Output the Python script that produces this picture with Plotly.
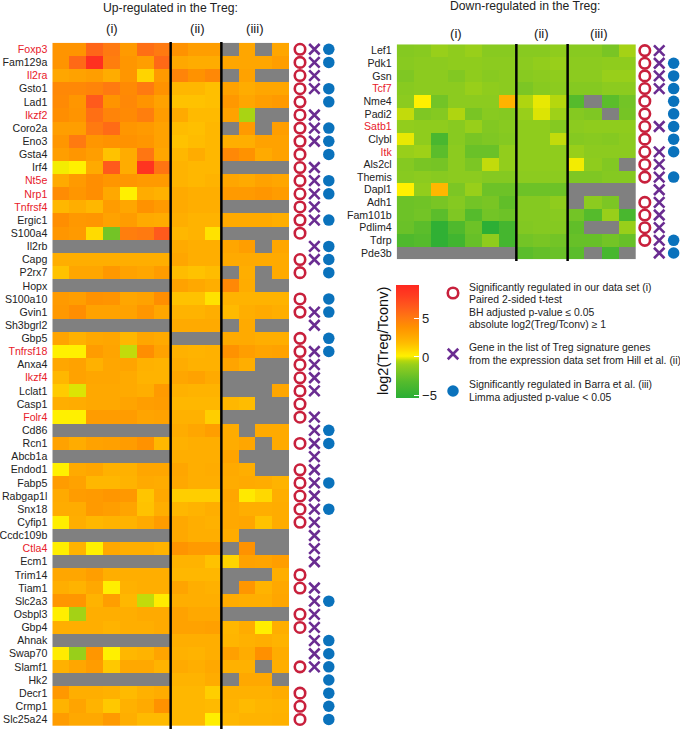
import plotly.graph_objects as go
import numpy as np

N = None
# ---------- data ----------
up_genes = ["Foxp3","Fam129a","Il2ra","Gsto1","Lad1","Ikzf2","Coro2a","Eno3","Gsta4","Irf4","Nt5e","Nrp1","Tnfrsf4","Ergic1","S100a4","Il2rb","Capg","P2rx7","Hopx","S100a10","Gvin1","Sh3bgrl2","Gbp5","Tnfrsf18","Anxa4","Ikzf4","Lclat1","Casp1","Folr4","Cd86","Rcn1","Abcb1a","Endod1","Fabp5","Rabgap1l","Snx18","Cyfip1","Ccdc109b","Ctla4","Ecm1","Trim14","Tiam1","Slc2a3","Osbpl3","Gbp4","Ahnak","Swap70","Slamf1","Hk2","Decr1","Crmp1","Slc25a24"]
down_genes = ["Lef1","Pdk1","Gsn","Tcf7","Nme4","Padi2","Satb1","Clybl","Itk","Als2cl","Themis","Dapl1","Adh1","Fam101b","Pdlim4","Tdrp","Pde3b"]
highlighted = ["Foxp3","Il2ra","Ikzf2","Nt5e","Nrp1","Tnfrsf4","Tnfrsf18","Ikzf4","Folr4","Ctla4","Tcf7","Satb1","Itk"]
columns = ["i1","i2","i3","i4","i5","i6","i7","ii1","ii2","ii3","iii1","iii2","iii3","iii4"]
evidence = ["(i)","(ii)","(iii)"]

up_values = [
[3.7,3.7,6,5,3.4,5.5,5,3.8,3.2,3.2,N,2.8,N,2.8],
[3.7,5.8,8.8,4.8,3.6,3.2,5.8,2.7,2.5,2.5,2.8,2.8,2.8,3.2],
[2.8,3,3.2,2.5,3.6,1,3.4,4.5,3.8,4.3,N,3.0,N,N],
[4.3,4.3,4.5,5,4.2,5,3.8,2,2,1.7,3,2.5,2.8,2.8],
[4.2,3.6,6.5,3.7,4.3,3.7,3,1.6,1.6,1.7,3.5,2.8,3.2,3.4],
[4,3.7,5.5,4.5,4.2,4.8,3.3,2.6,1.9,1.9,3,-0.7,N,N],
[3.2,3.2,5,5.7,3.6,3.4,3,1.8,1.7,2,N,3.4,N,3.2],
[3.6,5,3.6,3.8,3.8,3.6,3,1.6,1.8,2,2.4,2.4,3,3.0],
[3.2,3.6,3.2,1.6,2.5,5.2,2.8,2,2.5,2,4.3,3.8,2.6,3.0],
[0,0.1,2.6,6.5,2.5,8.5,5.3,2.2,2,2,N,N,N,N],
[2.6,3.4,4,3.6,3.6,3.4,3.4,2.2,2,2.2,2.8,2.6,3,2.8],
[4.1,3.6,4,2.7,0.1,2.5,2.3,2.6,2.4,2.4,3.4,3.4,3.6,3.3],
[2,2.4,2,3.3,2.8,3.8,3.4,2.6,2.4,2.4,N,N,N,N],
[4,3.5,3.6,3,3.3,2.6,2.5,2.4,2.2,2.2,2.6,2.6,2.6,2.4],
[3.6,3.4,0.8,-2.2,4.8,5,6.5,2,2.2,0.6,N,N,N,N],
[N,N,N,N,N,N,N,2.6,2.4,2.4,2.8,3.2,N,2.8],
[2.4,2.4,2.4,2.4,2.4,2.4,2.4,2.8,2.4,2.4,2.6,2.6,2.6,2.6],
[1.6,2.8,2.8,3.5,3,2.8,3.3,1.8,1.6,1.8,N,2.4,N,2.6],
[N,N,N,N,N,N,N,3,2.7,2.4,4.3,2.5,N,N],
[3.4,3.2,3.8,3.7,2.8,3,4,1.6,1.6,0.6,2.2,2.2,2.2,2.2],
[3.5,4,3,3,3,3.6,2.8,2.2,2.2,2.4,1.9,2.4,2.6,2.4],
[N,N,N,N,N,N,N,2.6,2.6,2.6,N,2.6,N,N],
[2.9,2.3,2.7,2.8,2,2.8,2.6,N,N,N,2.6,2.6,2.4,2.4],
[0.1,0.1,3.3,2.9,-0.4,4,3,2.3,2.2,2.3,3.8,3.2,2.9,3.0],
[2.8,3,2.3,2.8,2.9,2.3,2.2,2.5,2.3,2.3,2.9,2.4,N,N],
[2,3,2.8,2.8,2.6,2.2,2.2,2.8,3,2.6,N,N,N,N],
[1.3,-0.2,2.7,2.7,2.6,2.4,3.4,2.3,2.2,2.2,N,N,N,2.8],
[2.4,2.5,2.7,2.7,2.9,3.2,3.3,2,2,2,2,1.8,N,N],
[0.1,0.1,3.3,3.3,3.3,2.9,3,2.3,2.3,1.2,N,N,N,N],
[N,N,N,N,N,N,N,2.5,2.8,3.2,2.5,N,2.6,2.6],
[3,2.5,3,3.1,3.3,3.8,2,2.3,2.4,2.4,2.5,2.8,N,2.6],
[N,N,N,N,N,N,N,2.4,2.4,2.4,2.9,N,N,N],
[0.1,2.6,2.8,2.3,2.3,2.8,2.8,2.8,2.4,2.5,2.6,2.4,N,N],
[3.3,3,2,2,2.2,2.6,2.5,2.7,2.4,2.4,2.5,2.6,2.5,2.2],
[2.6,3.3,3.4,3.6,3.5,1.5,2.7,1.2,1.2,1.2,2.8,0.4,0.9,2.4],
[2.5,2.5,3.4,3.2,2.9,1.6,2.4,2,2.2,2.4,2.7,2.4,2.4,2.5],
[0.2,2.4,2.0,2.2,2.2,2.6,3.3,2.7,2.4,2.3,2.7,2.8,1.6,2.5],
[N,N,N,N,N,N,N,2.7,2.4,2.4,2.5,N,N,N],
[0.2,2.2,0.1,2.7,2.4,2.4,2.2,3.7,3.4,3.4,N,3.8,N,N],
[N,N,N,N,N,N,N,2.2,2.2,1.6,1,3,2.9,3.2],
[2.8,2.8,3.2,2.4,2.4,2.4,2.4,2,2,2,N,N,N,2.4],
[2.4,2.2,2.7,0.2,2.3,2.4,2.4,2.9,2.4,2.3,N,3.6,2.2,2.7],
[3.6,3.6,2.2,3.2,2.0,-0.4,0.3,2.4,2.4,2.4,2.5,2.4,2.4,2.8],
[0.2,-0.8,2.4,2.4,2.4,2.6,2.6,3,2.7,2.7,N,N,N,N],
[2.4,2.4,2.4,2.2,2.4,2.4,2.6,3,3,3.1,2,2.5,0.2,2.4],
[N,N,N,N,N,N,N,2.4,2.4,2.4,2.1,2.3,2.4,2.2],
[0.3,-1.0,3.6,0.1,2,2.2,2.9,2.3,2.2,2.4,3.1,2.5,3.9,2.5],
[2.3,2.8,3.3,1.4,2.7,2.7,2.2,2.6,2.4,2.7,2.3,2.3,N,2.4],
[N,N,N,N,N,N,N,2.2,2.2,2.5,N,2.7,2.7,N],
[3.5,2.4,2.4,2.3,1.9,2.3,2.5,2,2,1.2,2.3,2.3,2.3,2.5],
[2.2,2.9,2.2,1.4,2.3,2.6,3.8,2,2.0,1.9,2.2,1.9,2.1,2.2],
[3.3,2.7,2.7,3.4,2.4,1.9,1.9,2,2,0.2,2,2.2,2.2,2.3],
]

down_values = [
[-1.6,-1.5,-1.0,-1.3,-1.0,-1.5,-1.5,-1.5,-1.5,-1.3,-1.5,-1.5,-2,-0.8],
[-1.5,-1.4,-1.4,-1.3,-1.3,-1.4,-1.4,-1.4,-1.2,-1.0,-1.4,-1.4,-1.3,-1.3],
[-1.8,-1.4,-1.4,-1.7,-1.3,-1.5,-1.4,-1.5,-1.4,-1.3,-1.4,-1.4,-1.0,-1.0],
[-1.5,-1.4,-1.4,-1.4,-1.0,-1.3,-1.4,-1.9,-1.5,-1.4,-1.6,-1.6,-1.4,-1.4],
[-1.4,0.1,-2.2,-1.4,-1.4,-1.4,2.2,-0.6,-0.1,-0.5,-3.2,N,-3,-2.2],
[-0.4,-1.8,-1.6,-0.6,-2,-1.5,-1.6,-1,-0.2,-0.9,-1.6,-1.8,N,-2.1],
[-1.2,-1.3,-1.3,-1.5,-1.0,-1.7,-1.5,-1.3,-1.3,-1.6,-1.4,-1.3,-1.3,-1.3],
[-0.1,-1.3,-3.8,-1.5,-2,-1.8,-1.6,-1.3,-1.3,-0.4,-1.6,-1.5,-1.6,-1.4],
[-1,-0.9,-3,-1.4,-2.5,-2.5,-1.2,-1.3,-1.3,-1.3,-1.0,-1.4,-1.4,-1.4],
[-1.6,-2,-2.1,-1.4,-1.9,-0.4,-1.2,-1.3,-1.3,-1.3,0,-1.3,-1.7,N],
[-1.5,-1.4,-1.5,-1.4,-1.4,-1.6,-1.6,-1.4,-1.4,-1.4,-1.8,-1.8,-1.6,-1.6],
[0.1,-1.2,2.0,-1.9,-1.0,-2.4,-2.4,-2.4,-2.4,-2.4,N,N,N,N],
[-2.4,-2.3,-2,-1.6,-2.2,-2,-2.8,-1.6,-1.6,-1.3,N,-1.4,-1.9,N],
[-2.4,-2.2,-3,-1.8,-3.2,-2.2,-2.4,-1.6,-1.6,-1.5,-2.2,-3.2,-1,-3.8],
[-2.5,-3,-5,-3.5,-2.4,-5.2,-4,-1.7,-1.6,-1.6,-2.8,N,N,-1.0],
[-3.5,-3.2,-5,-4.2,-2.6,-1.3,-4,-2.2,-2,-2.2,-2.6,-2.6,-2.2,-2.6],
[N,N,N,N,N,N,N,-3,-2.7,-2.5,-3,N,-3.9,N],
]

up_sig_i = ["Foxp3","Fam129a","Il2ra","Gsto1","Lad1","Ikzf2","Coro2a","Eno3","Gsta4","Irf4","Nt5e","Nrp1","Tnfrsf4","Ergic1","S100a4","Capg","P2rx7","S100a10","Gvin1","Gbp5","Tnfrsf18","Anxa4","Ikzf4","Lclat1","Casp1","Folr4","Rcn1","Endod1","Fabp5","Rabgap1l","Snx18","Cyfip1","Trim14","Tiam1","Osbpl3","Gbp4","Slamf1","Decr1","Crmp1","Slc25a24"]
up_sig_ii = ["Foxp3","Fam129a","Il2ra","Gsto1","Ikzf2","Coro2a","Eno3","Irf4","Nt5e","Nrp1","Tnfrsf4","Ergic1","Il2rb","Capg","Gvin1","Sh3bgrl2","Tnfrsf18","Anxa4","Ikzf4","Lclat1","Folr4","Cd86","Rcn1","Abcb1a","Endod1","Fabp5","Rabgap1l","Snx18","Cyfip1","Ccdc109b","Ctla4","Ecm1","Tiam1","Slc2a3","Osbpl3","Gbp4","Ahnak","Swap70","Slamf1"]
up_sig_iii = ["Foxp3","Fam129a","Gsto1","Lad1","Coro2a","Eno3","Gsta4","Nt5e","Nrp1","Ergic1","Il2rb","Capg","P2rx7","S100a10","Gvin1","Gbp5","Tnfrsf18","Cd86","Rcn1","Fabp5","Snx18","Slc2a3","Ahnak","Swap70","Slamf1","Hk2","Decr1","Crmp1","Slc25a24"]
down_sig_i = ["Lef1","Pdk1","Gsn","Tcf7","Nme4","Padi2","Satb1","Clybl","Itk","Als2cl","Themis","Adh1","Fam101b","Pdlim4","Tdrp"]
down_sig_ii = ["Lef1","Pdk1","Gsn","Tcf7","Satb1","Itk","Als2cl","Themis","Dapl1","Adh1","Fam101b","Pdlim4","Tdrp","Pde3b"]
down_sig_iii = ["Pdk1","Gsn","Tcf7","Nme4","Padi2","Satb1","Clybl","Itk","Themis","Tdrp","Pde3b"]

scale_stops = [-5.3,-3.2,-1.8,-1.0,-0.5,-0.2,0.1,0.5,1.0,1.8,2.5,3.2,3.9,5.0,6.5,8.0,9.3]
scale_colors = ["#2AAE35","#55BB2C","#7FC723","#98CF1A","#B5D70E","#DCE404","#FFF000","#FFE600","#FFD400","#FFBC00","#FFAC00","#FF9E00","#FF9000","#FF7A10","#FF5A1C","#FF3C20","#FF2820"]
colorbar_ticks = [-5, 0, 5]
colorbar_ticktext = ["−5", "0", "5"]

legend_lines_i = ["Significantly regulated in our data set (i)", "Paired 2-sided t-test", "BH adjusted p-value ≤ 0.05", "absolute log2(Treg/Tconv) ≥ 1"]
legend_lines_ii = ["Gene in the list of Treg signature genes", "from the expression data set from Hill et al. (ii)"]
legend_lines_iii = ["Significantly regulated in Barra et al. (iii)", "Limma adjusted p-value &lt; 0.05"]

# ---------- layout helpers (pixels -> paper) ----------
W, H = 680, 729
FONT = "Liberation Sans"
px = lambda x: x / W
py = lambda y: 1 - y / H
RED, PURPLE, BLUE, GREY = "#C8203C", "#6A2C91", "#0A72BC", "#808080"

zmin, zmax = scale_stops[0], scale_stops[-1]
cs = [[(v - zmin) / (zmax - zmin), c] for v, c in zip(scale_stops, scale_colors)]

def arr(rows):
    return np.array([[np.nan if v is None else v for v in r] for r in rows], dtype=float)

fig = go.Figure()

def panel(genes, rows, sig_i, sig_ii, sig_iii, hx, hy, mx, mr, ids):
    xa, ya, xb, yb = ids
    z = arr(rows)
    missing = np.where(np.isnan(z), 1.0, np.nan)
    fig.add_trace(go.Heatmap(x=columns, y=genes, z=missing, xaxis=xa, yaxis=ya,
                             colorscale=[[0, GREY], [1, GREY]], showscale=False, hoverinfo="skip"))
    fig.add_trace(go.Heatmap(x=columns, y=genes, z=z, xaxis=xa, yaxis=ya, coloraxis="coloraxis"))
    for lab, members, sym, size, col, lw in [
        ("(i)", sig_i, "circle-open", 10.5, RED, 2.6),
        ("(ii)", sig_ii, "x-thin-open", 10.5, PURPLE, 2.6),
        ("(iii)", sig_iii, "circle", 11.5, BLUE, 0),
    ]:
        fig.add_trace(go.Scatter(x=[lab] * len(members), y=members, mode="markers", xaxis=xb, yaxis=yb,
                                 showlegend=False, cliponaxis=False,
                                 marker=dict(symbol=sym, size=size, color=col, line=dict(color=col, width=lw))))
    ticktext = [f'<span style="color:#E8202A">{g}</span>' if g in highlighted else g for g in genes]
    n = len(genes)
    yrange = [n - 0.5, -0.5]
    xaname = "xaxis" + xa[1:]
    yaname = "yaxis" + ya[1:]
    xbname = "xaxis" + xb[1:]
    ybname = "yaxis" + yb[1:]
    fig.update_layout({
        xaname: dict(domain=[px(hx[0]), px(hx[1])], anchor=ya, type="category", categoryorder="array",
                     categoryarray=columns, range=[-0.5, 13.5], visible=False),
        yaname: dict(domain=[py(hy[1]), py(hy[0])], anchor=xa, type="category", categoryorder="array",
                     categoryarray=genes, range=yrange, tickmode="array", tickvals=genes, ticktext=ticktext,
                     ticklen=0, showgrid=False, zeroline=False, showline=False, ticklabelstandoff=4,
                     tickfont=dict(family=FONT, size=10.6, color="#222222")),
        xbname: dict(domain=[px(mx[0]), px(mx[1])], anchor=yb, type="category", categoryorder="array",
                     categoryarray=evidence, range=mr, visible=False),
        ybname: dict(domain=[py(hy[1]), py(hy[0])], anchor=xb, type="category", categoryorder="array",
                     categoryarray=genes, range=yrange, visible=False),
    })
    return xa

L_X, L_Y = (52.3, 289.0), (42.7, 726.0)
R_X, R_Y = (396.7, 636.0), (44.3, 259.3)

panel(up_genes, up_values, up_sig_i, up_sig_ii, up_sig_iii, L_X, L_Y, (292.8, 336.0), [-0.5, 2.5], ("x", "y", "x2", "y2"))
panel(down_genes, down_values, down_sig_i, down_sig_ii, down_sig_iii, R_X, R_Y, (637.6, 680.0), [-0.5, 2.44], ("x3", "y3", "x4", "y4"))

# legend markers on a pixel-scaled overlay axis
legend_y_px = [293, 354, 391]
fig.add_trace(go.Scatter(x=[453], y=[legend_y_px[0]], mode="markers", xaxis="x5", yaxis="y5", showlegend=False,
                         marker=dict(symbol="circle-open", size=10.5, color=RED, line=dict(color=RED, width=2.6))))
fig.add_trace(go.Scatter(x=[453], y=[legend_y_px[1]], mode="markers", xaxis="x5", yaxis="y5", showlegend=False,
                         marker=dict(symbol="x-thin-open", size=10.5, color=PURPLE, line=dict(color=PURPLE, width=2.6))))
fig.add_trace(go.Scatter(x=[453], y=[legend_y_px[2]], mode="markers", xaxis="x5", yaxis="y5", showlegend=False,
                         marker=dict(symbol="circle", size=11.5, color=BLUE)))

shapes = []
for xr, y0, y1 in [("x", 42, 729), ("x3", 44, 261)]:
    for pos in (6.5, 9.5):
        shapes.append(dict(type="line", xref=xr, yref="paper", x0=pos, x1=pos, y0=py(y0), y1=py(y1),
                           line=dict(color="black", width=2.5), layer="above"))

# white colourbar ticks on the left edge too (the bar itself only draws them on one side)
CB_TOP, CB_LEN, CB_LEFT = 285, 113.3, 396
for v in colorbar_ticks:
    tick_y = CB_TOP + CB_LEN * (zmax - v) / (zmax - zmin)
    shapes.append(dict(type="line", xref="paper", yref="paper", x0=px(CB_LEFT), x1=px(CB_LEFT + 5),
                       y0=py(tick_y), y1=py(tick_y), line=dict(color="white", width=1), layer="above"))

def txt(text, x, y, size, color="#222222", xanchor="center", align="center", angle=0):
    return dict(text=text, x=px(x), y=py(y), xref="paper", yref="paper", showarrow=False,
                xanchor=xanchor, yanchor="middle", align=align, textangle=angle,
                font=dict(family=FONT, size=size, color=color))

annotations = [
    txt("Up-regulated in the Treg:", 170.5, 7.5, 12.2),
    txt("Down-regulated in the Treg:", 525, 6, 12.2),
    txt("(i)", 111.7, 28, 13.2), txt("(ii)", 197, 28, 13.2), txt("(iii)", 255, 28, 13.2),
    txt("(i)", 455.7, 33, 13.2), txt("(ii)", 541.7, 33, 13.2), txt("(iii)", 599, 33, 13.2),
    txt("log2(Treg/Tconv)", 383, 341, 14.5, color="#111111", angle=-90),
]
for lines, x0, ys in [(legend_lines_i, 466.5, [287, 299.5, 312, 325]),
                      (legend_lines_ii, 467.3, [347, 360]),
                      (legend_lines_iii, 466.5, [384, 397])]:
    for line, y in zip(lines, ys):
        annotations.append(txt(line, x0, y, 10.4, xanchor="left", align="left"))

fig.update_layout(
    width=W, height=H, margin=dict(l=0, r=0, t=0, b=0, pad=0), autosize=False,
    paper_bgcolor="white", plot_bgcolor="rgba(0,0,0,0)", showlegend=False,
    xaxis5=dict(domain=[0, 1], range=[0, W], visible=False, anchor="y5"),
    yaxis5=dict(domain=[0, 1], range=[H, 0], visible=False, anchor="x5"),
    coloraxis=dict(
        colorscale=cs, cmin=zmin, cmax=zmax,
        colorbar=dict(
            x=px(CB_LEFT), xanchor="left", y=py(CB_TOP), yanchor="top", lenmode="pixels", len=CB_LEN,
            thicknessmode="pixels", thickness=23, xpad=0, ypad=0, outlinewidth=0,
            tickmode="array", tickvals=colorbar_ticks, ticktext=colorbar_ticktext, ticks="inside",
            tickcolor="white", ticklen=5, tickwidth=1, ticklabelposition="outside",
            tickfont=dict(family=FONT, size=13, color="#222222"),
        ),
    ),
    shapes=shapes, annotations=annotations,
)

fig.write_html("out.html", config=dict(displayModeBar=False),
               post_script="document.body.style.margin='0';document.body.style.overflow='hidden';")
